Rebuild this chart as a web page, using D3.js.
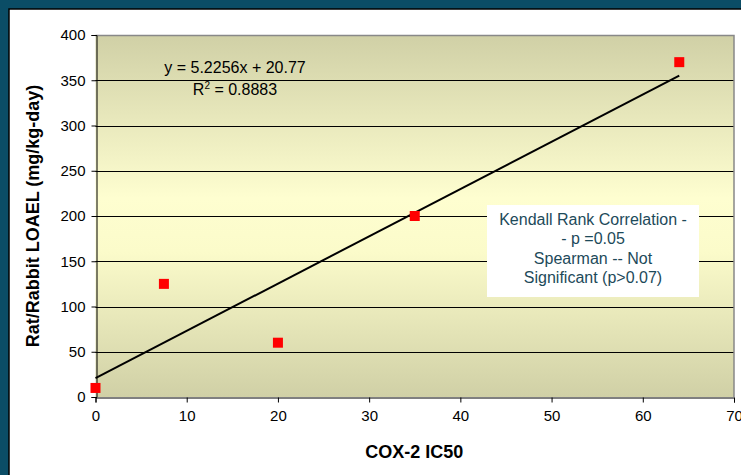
<!DOCTYPE html>
<html>
<head>
<meta charset="utf-8">
<script src="https://cdn.jsdelivr.net/npm/d3@7"></script>
<style>
  html, body { margin: 0; padding: 0; background: #fff; }
  svg { display: block; font-family: Arial, "Liberation Sans", sans-serif; }
</style>
</head>
<body>
<svg width="741" height="475"></svg>
<script>
const width = 741;
const height = 475;

const margin = ({top: 35, right: 7, bottom: 78, left: 95.5});

// COX-2 IC50 vs Rat/Rabbit LOAEL
const ic50 = [0, 7.5, 20, 35, 64];
const loael = [10, 125, 60, 200, 370];

const slope = 5.2256;
const intercept = 20.77;

const xTicks = [0, 10, 20, 30, 40, 50, 60, 70];
const yTicks = [0, 50, 100, 150, 200, 250, 300, 350, 400];

const noteLines = ['Kendall Rank Correlation -', '- p =0.05', 'Spearman -- Not', 'Significant (p>0.07)'];

const data = ic50.map((d, i) => ({x: d, y: loael[i]}));

const x = d3.scaleLinear().domain([0, 70]).range([margin.left, width - margin.right]);
const y = d3.scaleLinear().domain([0, 400]).range([height - margin.bottom, margin.top]);

const svg = d3.select('svg');

// frame
svg.append('rect').attr('width', width).attr('height', height).attr('fill', '#0b4d66');
svg.append('rect').attr('x', 9).attr('y', 9).attr('width', width).attr('height', height)
    .attr('fill', '#fff').attr('stroke', '#000').attr('stroke-width', 1.5);

// plot background
const grad = svg.append('defs').append('linearGradient')
    .attr('id', 'bg').attr('x1', 0).attr('y1', 0).attr('x2', 0).attr('y2', 1);
grad.append('stop').attr('offset', '0%').attr('stop-color', '#d0d0a6');
grad.append('stop').attr('offset', '45%').attr('stop-color', '#fefed0');
grad.append('stop').attr('offset', '60%').attr('stop-color', '#fbfbca');
grad.append('stop').attr('offset', '100%').attr('stop-color', '#d0d0a6');

svg.append('rect')
    .attr('x', x(0)).attr('y', y(400))
    .attr('width', x(70) - x(0)).attr('height', y(0) - y(400))
    .attr('fill', 'url(#bg)');

// gridlines
svg.append('g')
    .selectAll('line')
    .data(yTicks.filter(d => d > 0 && d < 400))
    .join('line')
    .attr('x1', x(0)).attr('x2', x(70))
    .attr('y1', d => Math.round(y(d)) + 0.5).attr('y2', d => Math.round(y(d)) + 0.5)
    .attr('stroke', '#000').attr('stroke-width', 1);

// plot border top/right
svg.append('path')
    .attr('d', `M${x(0)},${Math.round(y(400)) + 0.5}H${x(70)}V${y(0)}`)
    .attr('fill', 'none').attr('stroke', '#888').attr('stroke-width', 1.5);

const xAxis = g => g.attr('transform', `translate(0,${Math.round(y(0)) + 0.5})`)
    .call(d3.axisBottom(x).tickValues(xTicks).tickSize(5).tickPadding(8))
    .call(g => g.selectAll('path, line').attr('stroke', '#000'))
    .call(g => g.selectAll('text').attr('font-size', 15).attr('fill', '#000'));

const yAxis = g => g.attr('transform', `translate(${Math.round(x(0)) + 0.5},0)`)
    .call(d3.axisLeft(y).tickValues(yTicks).tickSize(5).tickPadding(6))
    .call(g => g.selectAll('path, line').attr('stroke', '#000'))
    .call(g => g.selectAll('text').attr('font-size', 15).attr('fill', '#000'));

svg.append('g').call(xAxis);
svg.append('g').call(yAxis);

svg.selectAll('.domain').attr('stroke', '#000');

// trendline
const xMax = d3.max(ic50);
svg.append('line')
    .attr('x1', x(0)).attr('y1', y(intercept))
    .attr('x2', x(xMax)).attr('y2', y(slope * xMax + intercept))
    .attr('stroke', '#000').attr('stroke-width', 2);

// points
svg.append('g')
    .attr('fill', '#ff0000')
    .selectAll('rect')
    .data(data)
    .join('rect')
    .attr('x', d => x(d.x) - 5)
    .attr('y', d => y(d.y) - 5)
    .attr('width', 10)
    .attr('height', 10);

// equation
const eq = svg.append('g').attr('font-size', 16).attr('fill', '#000').attr('text-anchor', 'middle');
eq.append('text').attr('x', 235).attr('y', 73)
    .text(`y = ${slope}x + ${intercept}`);
const r2 = eq.append('text').attr('x', 235).attr('y', 95);
r2.append('tspan').text('R');
r2.append('tspan').attr('font-size', 10).attr('dy', -6).text('2');
r2.append('tspan').attr('dy', 6).text(' = 0.8883');

// note box
svg.append('rect')
    .attr('x', 487).attr('y', 205).attr('width', 212).attr('height', 92)
    .attr('fill', '#fff');
svg.append('g')
    .attr('font-size', 16).attr('fill', '#1d4a5a').attr('text-anchor', 'middle')
    .selectAll('text')
    .data(noteLines)
    .join('text')
    .attr('x', 593)
    .attr('y', (d, i) => 225 + i * 19.3)
    .text(d => d);

// axis titles
svg.append('text')
    .attr('x', (x(0) + x(70)) / 2 - 0.5).attr('y', 458)
    .attr('text-anchor', 'middle').attr('font-size', 18).attr('font-weight', 'bold')
    .text('COX-2 IC50');

svg.append('text')
    .attr('transform', `translate(39,${(y(0) + y(400)) / 2}) rotate(-90)`)
    .attr('text-anchor', 'middle').attr('font-size', 18).attr('font-weight', 'bold')
    .text('Rat/Rabbit LOAEL (mg/kg-day)');
</script>
</body>
</html>
